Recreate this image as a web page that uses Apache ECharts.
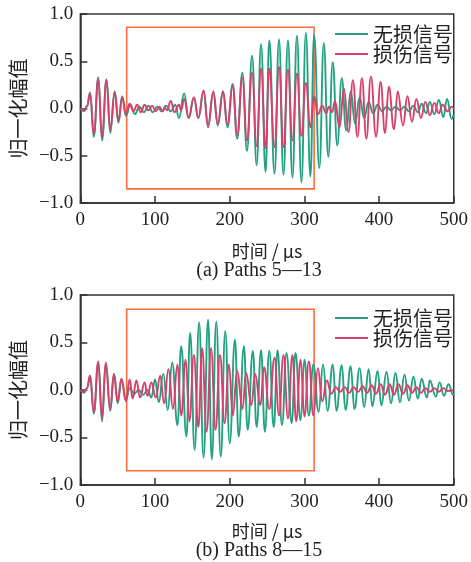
<!DOCTYPE html>
<html><head><meta charset="utf-8">
<script src="https://cdn.jsdelivr.net/npm/echarts@6/dist/echarts.min.js"></script>
<style>html,body{margin:0;padding:0;background:#fff}#c{width:471px;height:562px}</style>
</head><body><div id="c"></div>
<script>
// ---- data (time in μs, normalized amplitude) ----
const seriesNames = ['无损信号', '损伤信号'];
const captions = ['(a) Paths 5—13', '(b) Paths 8—15'];
const xAxisName = '时间 / μs';
const yAxisName = '归一化幅值';
const xRange = [0, 500, 100];
const yRange = [-1, 1, 0.5];
const boxA = [62, 313, -0.85, 0.86];
const boxB = [62, 313, -0.85, 0.85];

const intactA = [[0,0],[5,-0.03],[9,0.03],[13,0.17],[18,-0.3],[24,0.33],[29,-0.34],[35,0.31],[40,-0.26],[46,0.18],[51,-0.15],[56,0.13],[61,-0.08],[67,0.04],[73,-0.06],[79,0.02],[85,-0.04],[91,0.03],[97,-0.04],[103,0.02],[109,-0.03],[115,0.03],[121,-0.03],[127,0.04],[132,-0.1],[139,0.16],[145,-0.1],[152,0.11],[158,-0.1],[165,0.18],[171,-0.17],[178,0.17],[184,-0.18],[191,0.18],[197,-0.2],[204,0.26],[210,-0.32],[217,0.38],[223,-0.45],[230,0.56],[236,-0.6],[242,0.68],[248,-0.67],[253,0.72],[260,-0.69],[266,0.73],[272,-0.7],[278,0.72],[284,-0.73],[290,0.77],[296,-0.78],[302,0.8],[308,-0.72],[313,0.78],[320,-0.63],[326,0.69],[332,-0.51],[338,0.49],[344,-0.39],[350,0.32],[356,-0.23],[362,0.18],[368,-0.16],[374,0.12],[380,-0.1],[386,0.07],[392,-0.05],[398,0.04],[404,-0.03],[410,0.02],[416,-0.02],[422,0.02],[428,-0.02],[434,0.02],[440,-0.03],[446,0.03],[452,-0.04],[457,0.05],[463,-0.05],[468,0.07],[474,-0.06],[480,0.09],[486,-0.09],[491,0.1],[497,-0.11],[500,-0.06]];

const damagedA = [[0,0],[5,-0.02],[9,0.02],[13,0.16],[18,-0.27],[24,0.31],[29,-0.3],[35,0.3],[40,-0.22],[46,0.17],[51,-0.13],[56,0.12],[61,-0.06],[66,0.05],[71,-0.03],[76,0.04],[81,-0.04],[86,0.04],[91,-0.02],[96,0.03],[101,-0.03],[106,0.02],[110,-0.03],[113,0.01],[116,-0.02],[121,0.08],[126,-0.04],[132,0.04],[135,-0.02],[139,0.1],[145,-0.1],[152,0.12],[158,-0.1],[165,0.19],[171,-0.2],[178,0.18],[184,-0.16],[191,0.18],[197,-0.17],[204,0.24],[210,-0.28],[217,0.33],[223,-0.34],[230,0.38],[236,-0.4],[242,0.42],[248,-0.42],[253,0.42],[260,-0.41],[266,0.44],[272,-0.41],[278,0.41],[284,-0.34],[290,0.37],[296,-0.29],[302,0.27],[308,-0.2],[313,0.13],[318,-0.06],[324,0.03],[329,-0.05],[333,0.02],[337,-0.04],[341,0.08],[347,-0.2],[353,0.21],[359,-0.25],[365,0.3],[371,-0.3],[377,0.32],[383,-0.32],[389,0.34],[396,-0.3],[402,0.28],[408,-0.26],[413,0.23],[420,-0.22],[425,0.18],[432,-0.18],[438,0.13],[444,-0.14],[450,0.1],[456,-0.1],[462,0.07],[468,-0.07],[474,0.06],[480,-0.05],[485,0.04],[492,-0.03],[497,0.02],[500,0]];

const intactB = [[0,0],[5,-0.03],[9,0.02],[13,0.15],[18,-0.25],[24,0.29],[29,-0.33],[34,0.28],[40,-0.22],[45,0.17],[50,-0.14],[55,0.11],[61,-0.1],[66,0.02],[72,-0.04],[78,0.0],[84,-0.05],[90,0.0],[95,-0.08],[100,0.11],[105,-0.13],[111,0.17],[117,-0.21],[123,0.29],[130,-0.37],[135,0.46],[142,-0.49],[147,0.6],[153,-0.63],[159,0.71],[165,-0.71],[171,0.74],[176,-0.73],[182,0.72],[188,-0.7],[194,0.62],[200,-0.56],[207,0.53],[212,-0.49],[219,0.46],[224,-0.42],[231,0.41],[236,-0.39],[242,0.42],[247,-0.44],[253,0.41],[259,-0.39],[264,0.42],[270,-0.37],[276,0.39],[283,-0.35],[288,0.39],[295,-0.32],[300,0.32],[306,-0.27],[312,0.27],[319,-0.23],[325,0.27],[331,-0.22],[338,0.27],[343,-0.22],[350,0.26],[355,-0.21],[362,0.25],[367,-0.2],[374,0.23],[380,-0.18],[386,0.22],[391,-0.17],[398,0.2],[403,-0.16],[410,0.19],[416,-0.14],[422,0.18],[428,-0.13],[434,0.16],[440,-0.11],[446,0.14],[452,-0.09],[457,0.12],[464,-0.08],[468,0.1],[476,-0.07],[481,0.08],[487,-0.06],[493,0.06],[499,-0.05],[500,-0.03]];

const damagedB = [[0,0],[5,-0.02],[9,0.02],[13,0.15],[18,-0.23],[24,0.3],[29,-0.3],[34,0.29],[40,-0.2],[45,0.17],[50,-0.12],[55,0.12],[61,-0.12],[66,0.11],[70,-0.09],[75,0.1],[80,-0.08],[86,0.08],[90,-0.06],[95,0.08],[101,-0.08],[107,0.15],[112,-0.14],[118,0.22],[124,-0.2],[130,0.27],[135,-0.27],[141,0.32],[146,-0.33],[152,0.37],[158,-0.39],[163,0.44],[169,-0.44],[175,0.44],[181,-0.42],[187,0.37],[193,-0.35],[199,0.27],[204,-0.27],[210,0.2],[217,-0.2],[222,0.18],[229,-0.16],[234,0.17],[241,-0.16],[246,0.24],[253,-0.2],[260,0.34],[266,-0.27],[272,0.37],[278,-0.3],[284,0.37],[289,-0.33],[295,0.32],[300,-0.28],[306,0.3],[312,-0.27],[318,0.23],[324,-0.12],[330,0.1],[336,-0.04],[342,0.03],[348,-0.02],[354,0.03],[360,-0.03],[366,0.03],[372,-0.02],[378,0.04],[384,-0.03],[390,0.05],[396,-0.04],[402,0.06],[408,-0.05],[414,0.06],[420,-0.05],[426,0.06],[432,-0.04],[438,0.05],[444,-0.03],[450,0.03],[456,-0.03],[462,0.02],[468,-0.02],[474,0.02],[480,-0.02],[486,0.02],[492,-0.01],[500,0]];

// ---- styling ----
const GREEN = '#22a183', RED = '#d6416c', ORANGE = '#ff6b3b', AX = '#333333', TXT = '#222222';
const SERIF = 'Liberation Serif';
const CJK = 'Noto Sans CJK SC';

const grids = [
  {left: 75, top: 14, width: 379, height: 189},
  {left: 75, top: 295, width: 379, height: 190}
];

function xAx(i, gap) {
  return {
    gridIndex: i, type: 'value', min: xRange[0], max: xRange[1], interval: xRange[2],
    name: xAxisName, nameLocation: 'middle', nameGap: gap,
    nameTextStyle: {fontFamily: CJK, fontSize: 18, color: TXT},
    axisLine: {show: true, onZero: false, lineStyle: {color: AX, width: 1.5}},
    axisTick: {show: true, inside: true, length: 7, lineStyle: {color: AX, width: 1.5}},
    axisLabel: {fontFamily: SERIF, fontSize: 19, color: TXT, margin: 8},
    splitLine: {show: false}
  };
}
function yAx(i) {
  return {
    gridIndex: i, type: 'value', min: yRange[0], max: yRange[1], interval: yRange[2],
    name: yAxisName, nameLocation: 'middle', nameRotate: 90, nameGap: 43,
    nameTextStyle: {fontFamily: CJK, fontSize: 20, color: TXT},
    axisLine: {show: true, onZero: false, lineStyle: {color: AX, width: 1.5}},
    axisTick: {show: true, inside: true, length: 7, lineStyle: {color: AX, width: 1.5}},
    axisLabel: {fontFamily: SERIF, fontSize: 19, color: TXT, margin: 7,
      formatter: v => v.toFixed(1).replace('-', '\u2212')},
    splitLine: {show: false}
  };
}
function lineSeries(name, data, color, i, box) {
  const s = {
    name, type: 'line', xAxisIndex: i, yAxisIndex: i, data,
    showSymbol: false, smooth: 0.45, smoothMonotone: 'x',
    lineStyle: {color, width: 1.9}, itemStyle: {color},
    emphasis: {disabled: true}, animation: false
  };
  if (box) {
    s.markArea = {
      silent: true, label: {show: false},
      itemStyle: {color: 'rgba(0,0,0,0)', borderColor: ORANGE, borderWidth: 1.6},
      data: [[{coord: [box[0], box[3]]}, {coord: [box[1], box[2]]}]]
    };
  }
  return s;
}
function legend(top) {
  return {
    orient: 'vertical', left: 330, top, itemGap: 0, itemWidth: 33, itemHeight: 2,
    icon: 'rect', data: seriesNames,
    textStyle: {fontFamily: CJK, fontSize: 20, color: TXT, lineHeight: 20}
  };
}

const chart = echarts.init(document.getElementById('c'), null, {renderer: 'canvas'});
chart.setOption({
  animation: false,
  grid: grids.map(g => Object.assign({show: true, borderColor: AX, borderWidth: 1.5, backgroundColor: 'transparent'}, g)),
  xAxis: [xAx(0, 39), xAx(1, 37)],
  yAxis: [yAx(0), yAx(1)],
  legend: [legend(19), legend(303)],
  series: [
    lineSeries(seriesNames[0], intactA, GREEN, 0, null),
    lineSeries(seriesNames[1], damagedA, RED, 0, boxA),
    lineSeries(seriesNames[0], intactB, GREEN, 1, null),
    lineSeries(seriesNames[1], damagedB, RED, 1, boxB)
  ],
  graphic: captions.map((t, k) => ({
    type: 'text', x: 259, y: k === 0 ? 271 : 551,
    style: {text: t, font: '20px "Liberation Serif"', fill: TXT, align: 'center', verticalAlign: 'middle'}
  }))
});
</script></body></html>
